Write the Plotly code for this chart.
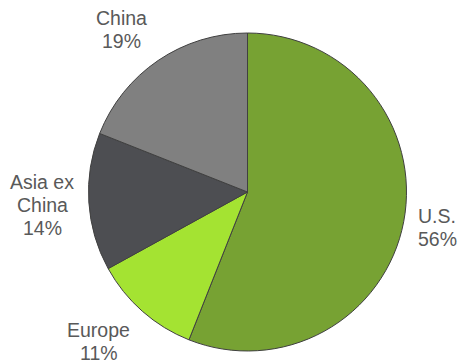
import plotly.graph_objects as go

# Data
regions = ["U.S.", "Europe", "Asia ex China", "China"]
shares = [56, 11, 14, 19]
label_lines = [["U.S."], ["Europe"], ["Asia ex", "China"], ["China"]]

# Styles
colors = ["#77A233", "#A4E332", "#4D4E52", "#808080"]
W, H = 459, 364
cx, cy, r = 247.5, 192.0, 159.0
font_size = 19.5
text_color = "#595959"
# label anchor positions in pixels: (center x, first baseline y, line step)
label_pos = [(437, 222.7, 23.3), (98.6, 336.7, 23.3), (42, 189.3, 22.9), (121, 25, 23.0)]

fig = go.Figure(go.Pie(
    labels=regions,
    values=shares,
    sort=False,
    direction="clockwise",
    rotation=0,
    marker=dict(colors=colors, line=dict(color="#404040", width=1)),
    textinfo="none",
    hoverinfo="label+percent",
    domain=dict(x=[(cx - r) / W, (cx + r) / W],
                y=[(H - cy - r) / H, (H - cy + r) / H]),
    showlegend=False,
))

annotations = []
for lines, val, (px, by, step) in zip(label_lines, shares, label_pos):
    all_lines = lines + [f"{val}%"]
    for i, t in enumerate(all_lines):
        base = by + i * step
        ycenter = base - 0.36 * font_size
        annotations.append(dict(
            text=t, x=px / W, y=1 - ycenter / H, xref="paper", yref="paper",
            xanchor="center", yanchor="middle", showarrow=False,
            font=dict(family="Liberation Sans, Arial, sans-serif", size=font_size, color=text_color),
        ))

fig.update_layout(
    width=W, height=H,
    margin=dict(l=0, r=0, t=0, b=0),
    paper_bgcolor="white",
    plot_bgcolor="white",
    annotations=annotations,
)

fig.write_html(
    "out.html",
    config={"displayModeBar": False},
    post_script="document.body.style.margin='0';document.body.style.overflow='hidden';",
)
